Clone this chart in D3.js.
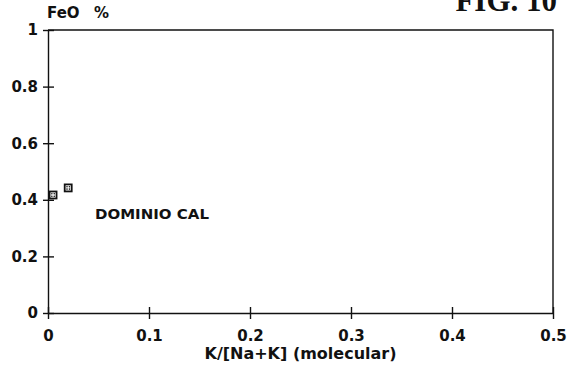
<!DOCTYPE html>
<html>
<head>
<meta charset="utf-8">
<script src="https://cdn.jsdelivr.net/npm/d3@7"></script>
<style>
  body { margin: 0; background: #fff; }
  svg { display: block; }
  .sans { font-family: "DejaVu Sans", sans-serif; font-weight: bold; fill: #111; }
  .axis path, .axis line { stroke: #111; stroke-width: 1.4; }
</style>
</head>
<body>
<svg class="chart" width="568" height="367"></svg>
<script>
// sample values
const kRatio = [0.005, 0.020]      // K/[Na+K] (molecular)
const feoPct = [0.417, 0.442]      // FeO %
const xTicks = [0, 0.1, 0.2, 0.3, 0.4, 0.5]
const yTicks = [0, 0.2, 0.4, 0.6, 0.8, 1]
const fieldLabel = "DOMINIO CAL"

const margin = { top: 30, right: 15, bottom: 54, left: 48 }
const width = 568 - margin.left - margin.right
const height = 367 - margin.top - margin.bottom

const svg = d3.select("svg.chart")
const g = svg.append("g")
  .attr("transform", `translate(${margin.left},${margin.top})`)

const x = d3.scaleLinear().domain([0, 0.5]).range([0, width])
const y = d3.scaleLinear().domain([0, 1]).range([height, 0])
const fmt = d3.format("~g")

// frame (top and right side)
g.append("path")
  .attr("d", `M0,0H${width}V${height}`)
  .attr("fill", "none")
  .attr("stroke", "#111")
  .attr("stroke-width", 1.4)

// x axis, ticks cross the line
const xAxis = g.append("g")
  .attr("class", "axis")
  .attr("transform", `translate(0,${height})`)
  .call(d3.axisBottom(x).tickValues(xTicks).tickFormat(fmt).tickSize(0).tickPadding(17))
xAxis.selectAll(".tick line").attr("y1", -6).attr("y2", 6)
xAxis.selectAll("text")
  .attr("class", "sans")
  .attr("font-size", 15)
  .attr("font-family", null)

// y axis
const yAxis = g.append("g")
  .attr("class", "axis")
  .call(d3.axisLeft(y).tickValues(yTicks).tickFormat(fmt).tickSize(0).tickPadding(10))
yAxis.selectAll(".tick line").attr("x1", -5).attr("x2", 6)
yAxis.selectAll("text")
  .attr("class", "sans")
  .attr("font-size", 15)
  .attr("font-family", null)

svg.selectAll(".axis .domain").attr("stroke-width", 1.4)

// points: small boxed squares with dotted centre
const pts = g.selectAll("g.pt")
  .data(kRatio.map((k, i) => [k, feoPct[i]]))
  .enter()
  .append("g")
  .attr("class", "pt")
  .attr("transform", d => `translate(${x(d[0])},${y(d[1])})`)

pts.append("rect")
  .attr("x", -3.5).attr("y", -3.5)
  .attr("width", 7).attr("height", 7)
  .attr("fill", "#fff")
  .attr("stroke", "#111")
  .attr("stroke-width", 1.8)

pts.selectAll("circle")
  .data([[-1.2, -1.2], [1.2, 1.2], [1.2, -1.2], [-1.2, 1.2]])
  .enter()
  .append("circle")
  .attr("cx", d => d[0]).attr("cy", d => d[1])
  .attr("r", 0.8)
  .attr("fill", "#111")

// field label
g.append("text")
  .attr("class", "sans")
  .attr("x", x(0.0465))
  .attr("y", y(0.333))
  .attr("font-size", 14)
  .attr("textLength", 114)
  .attr("lengthAdjust", "spacingAndGlyphs")
  .text(fieldLabel)

// axis titles
svg.append("text")
  .attr("class", "sans")
  .attr("x", margin.left + width / 2)
  .attr("y", 359)
  .attr("text-anchor", "middle")
  .attr("font-size", 15)
  .attr("textLength", 192)
  .attr("lengthAdjust", "spacingAndGlyphs")
  .text("K/[Na+K] (molecular)")

svg.append("text")
  .attr("class", "sans")
  .attr("x", 47)
  .attr("y", 18)
  .attr("font-size", 15)
  .text("FeO")

svg.append("text")
  .attr("class", "sans")
  .attr("x", 94)
  .attr("y", 18)
  .attr("font-size", 15)
  .text("%")

// figure number, clipped at the top edge of the scan
svg.append("text")
  .attr("x", 557)
  .attr("y", 11)
  .attr("text-anchor", "end")
  .attr("font-family", "'Liberation Serif', 'DejaVu Serif', serif")
  .attr("font-weight", "bold")
  .attr("font-size", 31)
  .attr("fill", "#111")
  .text("FIG. 10")
</script>
</body>
</html>
